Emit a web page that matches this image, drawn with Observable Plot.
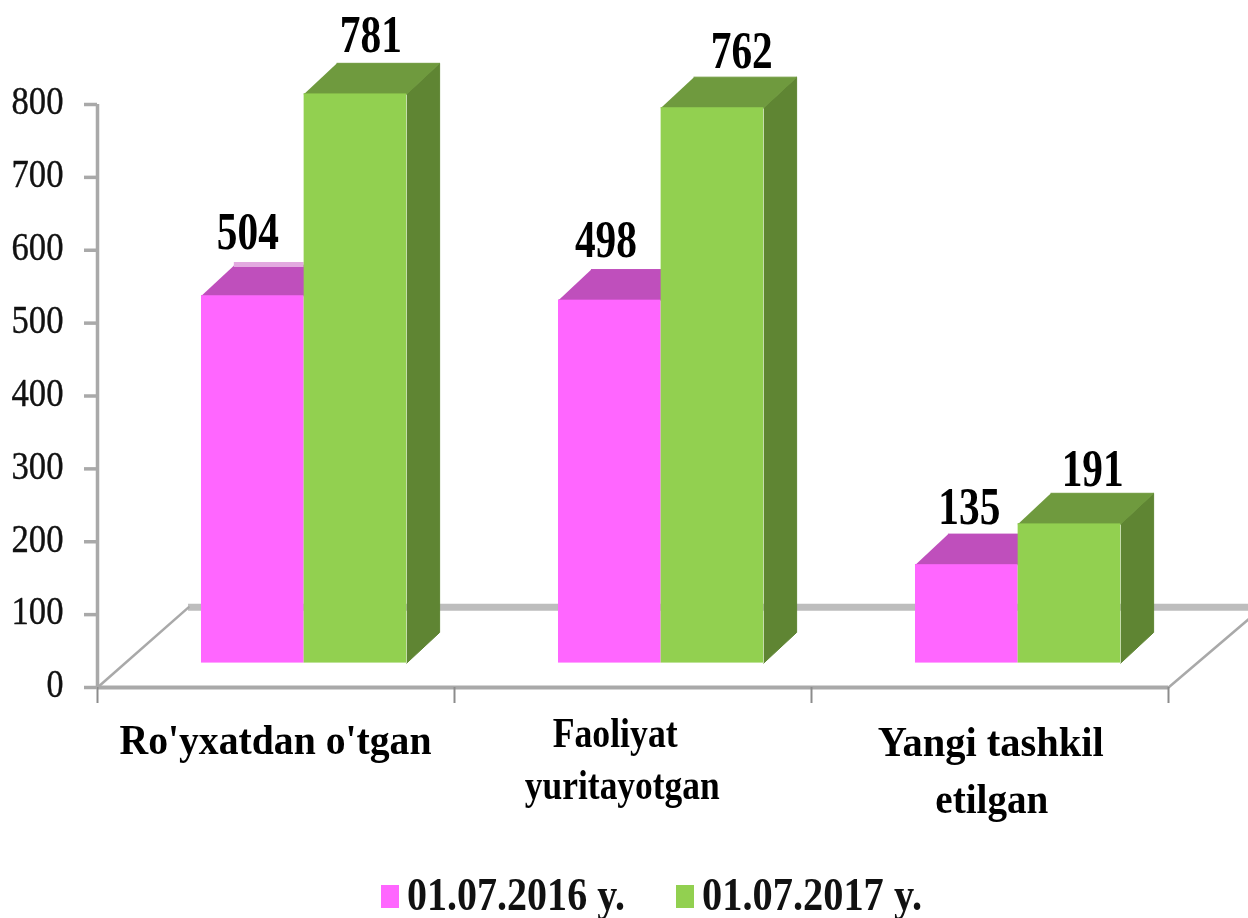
<!DOCTYPE html>
<html>
<head>
<meta charset="utf-8">
<script src="https://cdn.jsdelivr.net/npm/d3@7"></script>
<script src="https://cdn.jsdelivr.net/npm/@observablehq/plot@0.6"></script>
<style>
  html, body { margin: 0; padding: 0; background: #fff; overflow: hidden; }
  #chart svg { display: block; filter: blur(0.6px); }
  #legend { position: relative; height: 48px; filter: blur(0.6px); font-family: "Liberation Serif", serif; font-weight: bold; color: #111; }
  #legend .swatch { position: absolute; top: 15px; width: 18px; height: 23px; }
  #legend .name { position: absolute; top: -6px; font-size: 47px; line-height: 60px; white-space: pre; transform-origin: left center; }
</style>
</head>
<body>
<div id="chart"></div>
<div id="legend"></div>
<script>
// ---- data ----
const categories = ["Ro'yxatdan o'tgan", "Faoliyat yuritayotgan", "Yangi tashkil etilgan"];
const seriesNames = ["01.07.2016 y.", "01.07.2017 y."];
const values2016 = [504, 498, 135];
const values2017 = [781, 762, 191];
const yTicks = [0, 100, 200, 300, 400, 500, 600, 700, 800];

// ---- colours ----
const pink = {front: "#ff66ff", top: "#bf4fbc"};
const green = {front: "#92d050", top: "#6f9a3e", side: "#5f8533"};
const axisGray = "#a9a9a9";

// ---- 3D projection, in scale units ----
const baseLift = 33.5;      // front face of bars sits above the floor's front edge
const depthX = 0.092;       // receding x per bar depth
const depthY = 42;          // receding y per bar depth
const floorX = 0.255;       // receding x of the floor
const floorY = 110;         // receding y of the floor
const barStart = 0.2913;
const barWidth = 0.2875;

const rows = categories.map((c, i) => ({i, s: 0, v: values2016[i], x1: i + barStart, x2: i + barStart + barWidth, ...pink}));
const rows2 = categories.map((c, i) => ({i, s: 1, v: values2017[i], x1: i + barStart + barWidth, x2: i + barStart + 2 * barWidth, ...green}));

const topFace = r => [[r.x1, r.v + baseLift], [r.x2, r.v + baseLift], [r.x2 + depthX, r.v + baseLift + depthY], [r.x1 + depthX, r.v + baseLift + depthY]]
  .map(([x, y]) => ({x, y, id: `t${r.s}${r.i}`, color: r.top}));
const sideFace = r => [[r.x2, baseLift], [r.x2 + depthX, baseLift + depthY], [r.x2 + depthX, r.v + baseLift + depthY], [r.x2, r.v + baseLift]]
  .map(([x, y]) => ({x, y, id: `s${r.s}${r.i}`, color: r.side}));

const faces = (pts) => Plot.line(pts, {x: "x", y: "y", z: "id", fill: "color", stroke: "color", strokeWidth: 1});
const front = (rs) => Plot.rect(rs, {x1: "x1", x2: "x2", y1: () => baseLift, y2: d => d.v + baseLift, fill: "front"});

// value labels sit above the top faces; nudges follow the picture
const labelNudgeX = [[-0.014, -0.011, 0.007], [0.043, 0.082, 0.065]];
const labelLift = [[98, 93, 90], [91, 88, 86]];
const labelRows = [...rows, ...rows2].map(r => ({
  v: r.v,
  x: (r.x1 + r.x2) / 2 + labelNudgeX[r.s][r.i],
  y: r.v + labelLift[r.s][r.i]
}));

// category label lines: text, x in category units, drop below the axis in px
const catLines = [
  ["Ro'yxatdan o'tgan", 0.4986, 66],
  ["Faoliyat", 1.45, 59],
  ["yuritayotgan", 1.47, 111],
  ["Yangi tashkil", 2.502, 68],
  ["etilgan", 2.505, 125]
];
const textWidths = {
  "Ro'yxatdan o'tgan": 312, "Faoliyat": 125, "yuritayotgan": 195, "Yangi tashkil": 226, "etilgan": 113,
  "504": 62, "498": 62, "135": 62, "781": 62, "762": 62, "191": 62,
  "0": 17, "100": 52, "200": 52, "300": 52, "400": 52, "500": 52, "600": 52, "700": 52, "800": 52
};

const serif = "'Liberation Serif', serif";
const plot = Plot.plot({
  width: 1248,
  height: 870,
  marginLeft: 97, marginRight: 80, marginTop: 104, marginBottom: 183,
  style: {background: "#fff", overflow: "visible"},
  color: {type: "identity"},
  x: {domain: [0, 3], axis: null},
  y: {domain: [0, 800], axis: null},
  marks: [
    // floor
    Plot.ruleY([floorY], {x1: floorX, x2: 3.23, stroke: "#bdbdbd", strokeWidth: 7}),
    Plot.line([[0, 0], [floorX, floorY]], {stroke: axisGray, strokeWidth: 2.5}),
    Plot.line([[3, 0], [3.23, 96]], {stroke: axisGray, strokeWidth: 2.5}),
    // axes
    Plot.ruleX([0], {y1: 0, y2: 800, stroke: axisGray, strokeWidth: 3.5}),
    Plot.ruleY([0], {x1: 0, x2: 3, stroke: axisGray, strokeWidth: 4}),
    Plot.axisX({ticks: [0, 1, 2, 3], tickSize: 16, stroke: "#8c8c8c", strokeWidth: 2, tickFormat: () => null, label: null}),
    Plot.axisY({ticks: yTicks, tickSize: 13, tickPadding: 21, stroke: axisGray, strokeWidth: 3.5, label: null, tickFormat: () => null}),
    Plot.text(yTicks, {x: () => 0, y: d => d, dx: -34, dy: -3, text: d => String(d), textAnchor: "end", fontFamily: serif, fontSize: 40, fill: "#111", stroke: "#111", strokeWidth: 0.4}),
    // pink bars
    faces(rows.flatMap(topFace)),
    Plot.ruleY(rows.slice(0, 1), {x1: d => d.x1 + depthX, x2: d => d.x2, y: d => d.v + baseLift + depthY + 1, stroke: "#e3a9e0", strokeWidth: 5}),
    front(rows),
    // green bars
    faces(rows2.flatMap(sideFace)),
    faces(rows2.flatMap(topFace)),
    front(rows2),
    // value labels
    Plot.text(labelRows, {x: "x", y: "y", text: d => String(d.v), lineAnchor: "bottom", fontFamily: serif, fontWeight: "bold", fontSize: 52, fill: "#000"}),
    // category labels
    ...catLines.map(([t, x, drop]) =>
      Plot.text([t], {x: () => x, y: () => 0, dy: drop, lineAnchor: "bottom", fontFamily: serif, fontWeight: "bold", fontSize: 43, fill: "#000"}))
  ]
});
document.getElementById("chart").append(plot);

// the reference's text is narrow and tall: condense each string to its measured width
plot.querySelectorAll("text").forEach(t => {
  const w = textWidths[t.textContent.trim()];
  if (w) { t.setAttribute("textLength", w); t.setAttribute("lengthAdjust", "spacingAndGlyphs"); }
});

// legend
const legend = d3.select("#legend");
const legendLayout = [{sw: 381, tx: 407, w: 218, color: pink.front}, {sw: 676, tx: 702, w: 220, color: green.front}];
seriesNames.forEach((name, i) => {
  const l = legendLayout[i];
  legend.append("div").attr("class", "swatch").style("left", l.sw + "px").style("background", l.color);
  const span = legend.append("div").attr("class", "name").style("left", l.tx + "px").text(name);
  const natural = span.node().getBoundingClientRect().width;
  span.style("transform", `scaleX(${l.w / natural})`);
});
</script>
</body>
</html>
